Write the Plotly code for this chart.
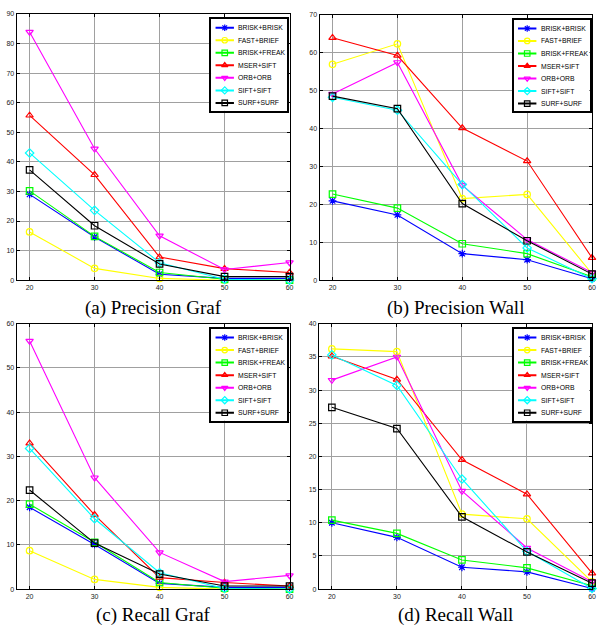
import plotly.graph_objects as go

W, H = 599, 630

x_vals = [20, 30, 40, 50, 60]
methods = ["BRISK+BRISK", "FAST+BRIEF", "BRISK+FREAK", "MSER+SIFT",
           "ORB+ORB", "SIFT+SIFT", "SURF+SURF"]
colors = ["#0000ff", "#ffff00", "#00ff00", "#ff0000", "#ff00ff", "#00ffff", "#000000"]
symbols = ["asterisk-open", "circle-open", "square-open", "triangle-up-open",
           "triangle-down-open", "diamond-open", "square-open"]

# rows follow the order of `methods`
precision_graf = [
    [29.0, 14.6, 2.0, 0.6, 0.6],
    [16.3, 4.0, 0.6, 0.0, 0.0],
    [30.2, 14.8, 2.6, 0.3, 0.0],
    [55.7, 35.6, 7.8, 3.9, 2.6],
    [83.9, 44.4, 15.0, 3.6, 6.0],
    [43.0, 23.6, 5.9, 0.3, 0.0],
    [37.3, 18.4, 5.5, 1.2, 1.2],
]
precision_wall = [
    [20.9, 17.2, 7.0, 5.4, 0.4],
    [56.9, 62.3, 21.5, 22.6, 1.7],
    [22.7, 19.0, 9.6, 7.0, 0.9],
    [63.9, 59.2, 40.1, 31.4, 5.9],
    [49.1, 57.4, 25.0, 10.7, 2.0],
    [48.2, 44.8, 25.2, 8.5, 0.4],
    [48.5, 45.2, 20.2, 10.4, 1.6],
]
recall_graf = [
    [18.5, 10.1, 1.3, 0.4, 0.4],
    [8.7, 2.2, 0.4, 0.0, 0.0],
    [19.2, 10.6, 1.5, 0.2, 0.0],
    [33.0, 16.8, 2.6, 1.5, 0.7],
    [56.1, 25.2, 8.3, 1.7, 3.1],
    [31.8, 15.9, 3.7, 0.15, 0.0],
    [22.4, 10.4, 3.4, 0.7, 0.7],
]
recall_wall = [
    [10.0, 7.8, 3.3, 2.6, 0.1],
    [36.2, 35.8, 11.3, 10.6, 1.1],
    [10.4, 8.4, 4.4, 3.2, 0.5],
    [35.1, 31.6, 19.5, 14.3, 2.4],
    [31.5, 35.0, 14.8, 6.2, 1.1],
    [35.3, 30.7, 16.6, 5.7, 0.1],
    [27.4, 24.2, 10.9, 5.6, 0.9],
]

captions = ["(a) Precision Graf", "(b) Precision Wall", "(c) Recall Graf", "(d) Recall Wall"]
y_max = [90, 70, 60, 40]
y_step = [10, 10, 10, 5]
panel_data = [precision_graf, precision_wall, recall_graf, recall_wall]

# panel boxes in pixels: left, right, top, bottom
boxes = [(16.7, 291.5, 10.0, 279.3), (321.7, 596.0, 10.7, 279.3),
         (16.7, 291.5, 323.3, 591.7), (321.0, 596.0, 323.3, 591.7)]
caption_y = [307, 618]

def px_x(p):
    return p / W

def px_y(p):
    return 1 - p / H

fig = go.Figure()
layout = dict(
    width=W, height=H, margin=dict(l=0, r=0, t=0, b=0),
    paper_bgcolor="white", plot_bgcolor="white", showlegend=False,
    font=dict(family="Liberation Sans, Arial", size=7, color="#222"),
)
annotations = []

tick_font = dict(family="Liberation Sans, Arial", size=7, color="#222")

for k in range(4):
    l, r, t, b = boxes[k]
    ax = "" if k == 0 else str(k + 1)
    layout["xaxis" + ax] = dict(
        domain=[px_x(l), px_x(r)], range=[18, 60], tickvals=x_vals,
        showgrid=True, gridcolor="#a0a0a0", gridwidth=1.3, zeroline=False,
        showline=True, linecolor="black", linewidth=1, mirror="ticks",
        ticks="inside", ticklen=3, tickcolor="black", tickfont=tick_font,
        anchor="y" + ax,
    )
    layout["yaxis" + ax] = dict(
        domain=[px_y(b), px_y(t)], range=[0, y_max[k]], dtick=y_step[k], tick0=0,
        showgrid=True, gridcolor="#a0a0a0", gridwidth=1.3, zeroline=False,
        showline=True, linecolor="black", linewidth=1, mirror="ticks",
        ticks="inside", ticklen=3, tickcolor="black", tickfont=tick_font,
        anchor="x" + ax,
    )
    for i, name in enumerate(methods):
        fig.add_trace(go.Scatter(
            x=x_vals, y=panel_data[k][i], name=name, mode="lines+markers",
            line=dict(color=colors[i], width=1.1),
            marker=dict(symbol=symbols[i], size=6.5, color=colors[i],
                        line=dict(color=colors[i], width=1.2)),
            cliponaxis=False, xaxis="x" + ax, yaxis="y" + ax,
        ))

    # legend box (own small axes)
    lid = str(k + 5)
    ll, lr = r - 79.0, r - 2.5
    lt = t + 5
    lb = lt + 93
    row = 12.67
    layout["xaxis" + lid] = dict(
        domain=[px_x(ll), px_x(lr)], range=[0, lr - ll],
        showgrid=False, zeroline=False, showticklabels=False, ticks="",
        showline=True, linecolor="black", linewidth=1.5, mirror=True,
        anchor="y" + lid,
    )
    layout["yaxis" + lid] = dict(
        domain=[px_y(lb), px_y(lt)], range=[(93 - 9) / row, -9 / row],
        showgrid=False, zeroline=False, showticklabels=False, ticks="",
        showline=True, linecolor="black", linewidth=1.5, mirror=True,
        anchor="x" + lid,
    )
    for i, name in enumerate(methods):
        fig.add_trace(go.Scatter(
            x=[4.5, 23.0], y=[i, i], mode="lines",
            line=dict(color=colors[i], width=2), hoverinfo="skip",
            xaxis="x" + lid, yaxis="y" + lid,
        ))
        fig.add_trace(go.Scatter(
            x=[13.75], y=[i], mode="markers",
            marker=dict(symbol=symbols[i], size=5.5, color=colors[i],
                        line=dict(color=colors[i], width=1.2)),
            hoverinfo="skip", xaxis="x" + lid, yaxis="y" + lid,
        ))
        annotations.append(dict(
            x=25.5, y=i, xref="x" + lid, yref="y" + lid, text=name,
            showarrow=False, xanchor="left", yanchor="middle",
            font=dict(family="Liberation Sans, Arial", size=6.8, color="black"),
        ))

    annotations.append(dict(
        x=px_x((l + r) / 2), y=px_y(caption_y[k // 2]), xref="paper", yref="paper",
        text=captions[k], showarrow=False, xanchor="center", yanchor="middle",
        font=dict(family="Liberation Serif, Times New Roman", size=19, color="black"),
    ))

layout["annotations"] = annotations
fig.update_layout(**layout)
fig.write_html(
    "out.html",
    config={"displayModeBar": False},
    post_script="document.body.style.margin='0px';document.body.style.overflow='hidden';",
)
